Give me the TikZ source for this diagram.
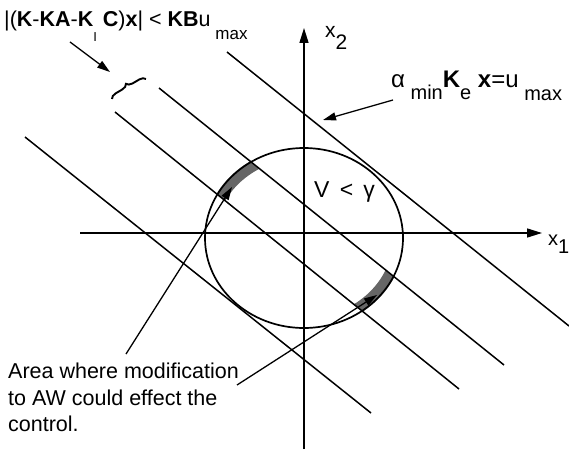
\documentclass[tikz,border=0pt]{standalone}
\usepackage{fontspec}
\setmainfont{Liberation Sans}
\usetikzlibrary{arrows.meta,decorations.pathreplacing}
\begin{document}
\begin{tikzpicture}[x=1pt,y=-1pt,
  lin/.style={line width=1.5pt},
  ax/.style={line width=1.5pt,-{Triangle[length=15pt,width=9pt]}},
  ptr/.style={line width=1.3pt,-{Triangle[length=13pt,width=8pt]}},
  lbl/.style={inner sep=0pt,anchor=base west},
  band/.style={fill=black!60}]
\useasboundingbox (0,0) rectangle (569,449);
% parallel lines
\coordinate (A1) at (227,52);  \coordinate (A2) at (569,326);
\coordinate (B1) at (159,88);  \coordinate (B2) at (504,365);
\coordinate (C1) at (115,112); \coordinate (C2) at (459,389);
\coordinate (D1) at (25,137);  \coordinate (D2) at (371,413);
\coordinate (O) at (304,238);
% shaded bands
\begin{scope}
\clip (B1) -- (B2) -- (C2) -- (C1) -- cycle;
\fill[band, even odd rule] (O) ellipse [x radius=100pt, y radius=91pt] (O) ellipse [x radius=89pt, y radius=80pt];
\end{scope}
\draw[lin] (A1) -- (A2);
\draw[lin] (B1) -- (B2);
\draw[lin] (C1) -- (C2);
\draw[lin] (D1) -- (D2);
% ellipse
\draw[line width=1.7pt] (O) ellipse [x radius=99pt, y radius=90pt];
% axes
\coordinate (xs) at (80,233); \coordinate (xe) at (542,233);
\coordinate (ys) at (304,449); \coordinate (ye) at (304,28);
\draw[ax] (xs) -- (xe);
\draw[ax] (ys) -- (ye);
% labels
\node[lbl] (top) at (4,27) {\fontsize{21.5}{25}\selectfont |(\textbf{K}-\textbf{KA}-\textbf{K}\raisebox{-15pt}{\fontsize{13}{13}\selectfont I}\ \textbf{C})\textbf{x}| < \textbf{KB}u\raisebox{-13pt}{\fontsize{17}{17}\selectfont\ max}};
\node[lbl] (alpha) at (391,88) {\fontsize{24}{27}\selectfont α\raisebox{-12pt}{\fontsize{20}{20}\selectfont\ min}\textbf{K}\raisebox{-12pt}{\fontsize{20}{20}\selectfont e}\ \textbf{x}=u\raisebox{-13pt}{\fontsize{20}{20}\selectfont\ max}};
\node[lbl] (x2) at (325,38) {\fontsize{21}{21}\selectfont x\raisebox{-12pt}{2}};
\node[lbl] (x1) at (548,245) {\fontsize{20}{20}\selectfont x\raisebox{-8pt}{1}};
\node[lbl] (V) at (314,197) {\fontsize{23}{23}\selectfont V\, <\, γ};
\node[inner sep=0pt, anchor=north west, align=left, font=\fontsize{21.5}{26.5}\selectfont] (area) at (8,363) {Area where modification\\to AW could effect the\\control.};
% brace and its arrow
\coordinate (br1) at (112,99); \coordinate (br2) at (146,79);
\draw[line width=1.9pt, decorate, decoration={brace, amplitude=6pt}] (br1) -- (br2);
\coordinate (ba) at (70,42); \coordinate (bt) at (110,72);
\draw[ptr] (ba) -- (bt);
% alpha arrow
\coordinate (aa) at (393,100); \coordinate (at) at (323,120);
\draw[ptr] (aa) -- (at);
% area pointers
\coordinate (p1) at (126,354); \coordinate (t1) at (232,187);
\coordinate (p2) at (237,385); \coordinate (t2) at (377,295);
\draw[ptr] (p1) -- (t1);
\draw[ptr] (p2) -- (t2);
\end{tikzpicture}
\end{document}
